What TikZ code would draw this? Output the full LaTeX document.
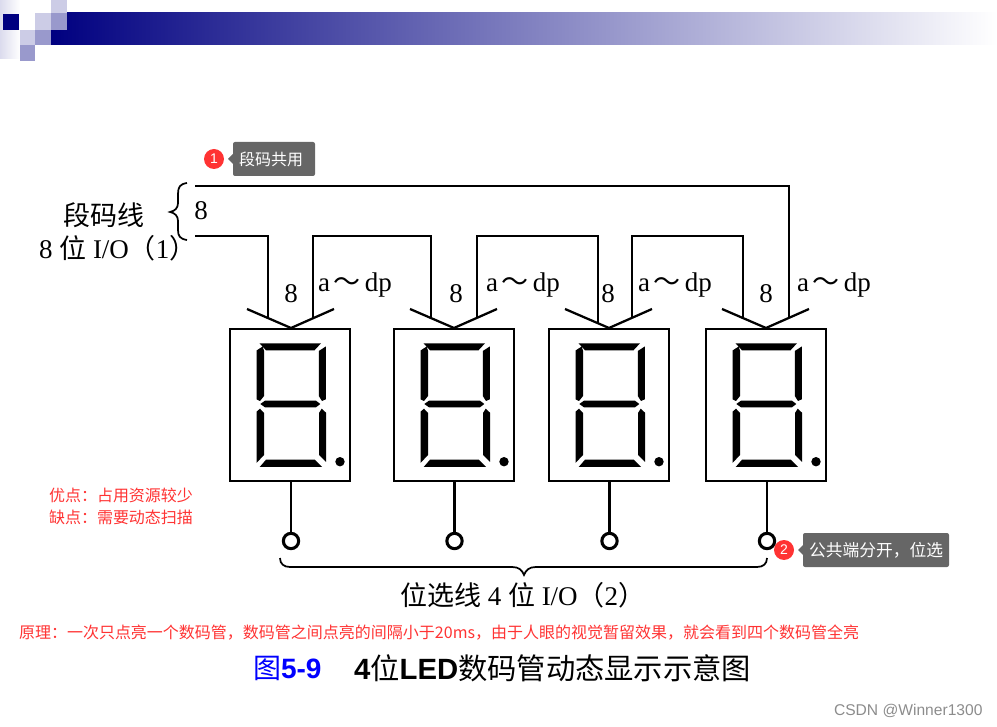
\documentclass[tikz,border=0pt]{standalone}
\usepackage{fontspec}
\setmainfont{Liberation Serif}
\setsansfont{Liberation Sans}
\newfontfamily\cjk{Noto Sans CJK SC}
\definecolor{navybar}{HTML}{000080}
\definecolor{sqmid}{HTML}{9999CC}
\definecolor{sqlight}{HTML}{CCCCE6}
\definecolor{tipgrey}{HTML}{666666}
\definecolor{tipred}{HTML}{FF3333}
\newcommand{\px}[1]{\fontsize{\dimexpr#1pt*3/4\relax}{\dimexpr#1pt*9/10\relax}\selectfont}
\tikzset{
  every node/.style={inner sep=0pt,outer sep=0pt},
  ledbox/.style={draw=black,line width=1.7pt,minimum width=90pt,minimum height=114pt},
  wire/.style={draw=black,line width=1.7pt,line join=miter},
  pinring/.style={circle,draw=black,line width=2.3pt,fill=white,minimum size=11.5pt},
  bigtext/.style={font=\px{27}},
  redtext/.style={text=tipred,font=\cjk\px{16}},
  tipbox/.style={fill=tipgrey,rounded corners=1.5pt},
  tiptext/.style={text=white,font=\cjk\px{16}},
  tipdot/.style={circle,fill=tipred,text=white,minimum size=15pt,font=\sffamily\px{14}},
  ledface/.pic={
    \begin{scope}[shift={(-290,-405)}]
      \fill (259.5,343.3)--(321,343.3)--(314.5,350.3)--(266,350.3)--cycle;
      \fill (256.5,350.5)--(262.7,346.5)--(264,350.7)--(264,396)--(260,401)--(256.5,399.3)--cycle;
      \fill (318.8,351)--(325.8,346.5)--(325.8,399.3)--(322,401)--(318.8,396)--cycle;
      \fill (260.3,404)--(265,400.7)--(316,400.7)--(320.3,404)--(316,407.3)--(265,407.3)--cycle;
      \fill (256.5,411.7)--(260,408.7)--(264,413)--(264,455)--(256.5,463)--cycle;
      \fill (319,413)--(321.7,408.7)--(326,412.7)--(326,462)--(319,455)--cycle;
      \fill (266,459.7)--(314.7,459.7)--(322,467)--(259.7,467)--cycle;
      \fill (340,461.7) circle (4.7);
    \end{scope}
  }
}
\begin{document}
\begin{tikzpicture}[x=0.75pt,y=-0.75pt]
\useasboundingbox (0,0) rectangle (997,727);
% header
\shade[left color=sqlight!70,right color=white] (0,0) rectangle (20,59);
\shade[left color=navybar,right color=white] (51,13) rectangle (997,45);
\fill[sqmid] (51,13) rectangle (67,30);
\fill[sqlight] (51,0) rectangle (67,13);
\fill[sqlight] (35,13) rectangle (51,30);
\fill[white] (19,14) rectangle (35,30);
\fill[navybar] (3,14) rectangle (19,30);
\fill[sqlight] (20,30) rectangle (35,45);
\fill[sqmid] (35,30) rectangle (51,45);
\fill[sqmid] (20,45) rectangle (35,61);
% displays
\node[ledbox] (d1) at (290,405) {};
\node[ledbox] (d2) at (454,405) {};
\node[ledbox] (d3) at (609,405) {};
\node[ledbox] (d4) at (766,405) {};
\foreach \i in {1,2,3,4} \pic at (d\i) {ledface};
% bus
\coordinate (busT) at (195,186);
\coordinate (busB) at (195,236);
\foreach \i/\ax in {1/291,2/454,3/609,4/766}{
  \coordinate (apex\i) at (\ax,328);
  \coordinate (vl\i) at (\ax-44,309);
  \coordinate (vr\i) at (\ax+43,309);
  \draw[wire] (vl\i) -- (apex\i) -- (vr\i);
}
\coordinate (w1a) at (268,318); \coordinate (w1b) at (313,318.5);
\coordinate (w2a) at (431,318); \coordinate (w2b) at (477,318.5);
\coordinate (w3a) at (598,323); \coordinate (w3b) at (632,318.5);
\coordinate (w4a) at (743,318); \coordinate (w4b) at (789,318.5);
\draw[wire] (busB) -| (w1a);
\draw[wire] (w1b) -- (w1b |- busB) -- (w2a |- busB) -- (w2a);
\draw[wire] (w2b) -- (w2b |- busB) -- (w3a |- busB) -- (w3a);
\draw[wire] (w3b) -- (w3b |- busB) -- (w4a |- busB) -- (w4a);
\draw[wire] (busT) -| (w4b);
% left brace
\draw[black,line width=1.3pt] (187,183) .. controls (180,184) and (178,187) .. (178,194) -- (178,203)
  .. controls (178,208) and (175,211) .. (170,212) .. controls (175,213) and (178,216) .. (178,221)
  -- (178,230) .. controls (178,236) and (180,239) .. (187,240);
% pins
\foreach \i/\ax in {1/291,2/454.5,3/609.5,4/767}{
  \node[pinring] (t\i) at (\ax,541) {};
  \coordinate (p\i) at (\ax,481);
  \draw[wire] (p\i) -- (t\i);
}
% bottom brace
\draw[black,line width=1.3pt] (280,558) .. controls (280,564) and (284,567) .. (290,567) -- (512,567)
  .. controls (519,567) and (522,570) .. (524,575) .. controls (526,570) and (529,567) .. (536,567)
  -- (757,567) .. controls (763,567) and (767,564) .. (767,558);
% labels
\node[bigtext] (lab1) at (104,215) {\cjk 段码线};
\node[bigtext,anchor=west] (lab2) at (39,248) {8 {\cjk 位} I/O{\cjk（}1{\cjk）}};
\node[bigtext] (n8) at (201,211) {8};
\node[bigtext] (e1) at (291,294) {8};
\node[bigtext] (e2) at (456,294) {8};
\node[bigtext] (e3) at (608,294) {8};
\node[bigtext] (e4) at (766,294) {8};
\foreach \i/\lx in {1/318,2/486,3/638,4/797}
  \node[bigtext,anchor=west] (ad\i) at (\lx,285) {a\kern3pt{\cjk ～}\kern3pt dp};
\node[bigtext,anchor=west] (lab3) at (400,595) {{\cjk 位选线} 4 {\cjk 位} I/O{\cjk（}2{\cjk）}};
% red notes
\node[redtext,anchor=west] (n1) at (49,495) {优点：占用资源较少};
\node[redtext,anchor=west] (n2) at (49,517) {缺点：需要动态扫描};
\node[redtext,anchor=west] (n3) at (19,633) {原理：一次只点亮一个数码管，数码管之间点亮的间隔小于20ms，由于人眼的视觉暂留效果，就会看到四个数码管全亮};
% title
\node[anchor=west,text=blue,font=\px{28}] (t5) at (253,668) {{\cjk 图}{\sffamily\bfseries 5-9}};
\node[anchor=west,text=black,font=\px{29.3}] (t6) at (354,668) {{\sffamily\bfseries 4}{\cjk 位}{\sffamily\bfseries LED}{\cjk 数码管动态显示示意图}};
% watermark
\node[anchor=west,text=black!45,font=\sffamily\px{15.6}] (wm) at (834,711) {CSDN @Winner1300};
% tooltips
\node[tipbox,minimum width=61.5pt,minimum height=25.5pt] (tip1) at (274,159) {};
\node[tiptext] (tip1t) at (271,159) {段码共用};
\coordinate (tip1a) at (228,159);
\fill[tipgrey] (tip1a) -- (tip1.west |- 0,154) -- (tip1.west |- 0,164) -- cycle;
\node[tipdot] (dot1) at (214,159) {1};
\node[tipbox,minimum width=109.5pt,minimum height=25.5pt] (tip2) at (876,550) {};
\node[tiptext,font=\cjk\px{16.75}] (tip2t) at (876,550) {公共端分开，位选};
\coordinate (tip2a) at (798,550);
\fill[tipgrey] (tip2a) -- (tip2.west |- 0,545) -- (tip2.west |- 0,555) -- cycle;
\node[tipdot] (dot2) at (784,550) {2};
\end{tikzpicture}
\end{document}
